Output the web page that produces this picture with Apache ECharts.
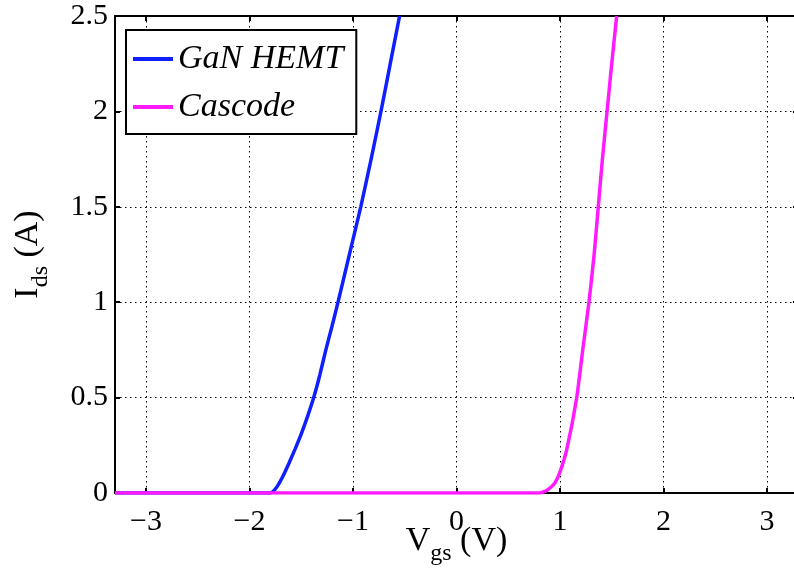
<!DOCTYPE html>
<html>
<head>
<meta charset="utf-8">
<script src="https://cdn.jsdelivr.net/npm/echarts@6.0.0/dist/echarts.min.js"></script>
<style>
  html, body { margin: 0; padding: 0; background: #fff; }
  #chart { width: 794px; height: 576px; }
</style>
</head>
<body>
<div id="chart"></div>
<script>
// data (Vgs in V, Ids in A)
var ganVgs = [-3.3, -1.80, -1.76, -1.72, -1.68, -1.62, -1.56, -1.50, -1.44, -1.38, -1.32, -1.265, -1.205, -1.145, -1.035, -0.925, -0.825, -0.73, -0.64, -0.55];
var ganIds = [0, 0, 0.015, 0.045, 0.085, 0.155, 0.23, 0.31, 0.40, 0.50, 0.62, 0.745, 0.87, 1.0, 1.25, 1.5, 1.75, 2.0, 2.25, 2.5];
var casVgs = [-3.3, 0.80, 0.86, 0.90, 0.95, 1.00, 1.065, 1.16, 1.22, 1.28, 1.33, 1.37, 1.41, 1.455, 1.50, 1.548];
var casIds = [0, 0, 0.01, 0.025, 0.052, 0.11, 0.227, 0.494, 0.75, 1.0, 1.25, 1.5, 1.75, 2.0, 2.25, 2.5];
var xTicks = [-3, -2, -1, 0, 1, 2, 3];
var seriesNames = ['GaN HEMT', 'Cascode'];

var serif = "'Liberation Serif', 'Times New Roman', serif";

function pairs(xs, ys) {
    var out = [];
    for (var i = 0; i < xs.length; i++) {
        out.push([xs[i], ys[i]]);
    }
    return out;
}

var chart = echarts.init(document.getElementById('chart'));
var option = {
    animation: false,
    backgroundColor: '#fff',
    grid: {
        left: 115,
        right: -4,
        top: 16,
        bottom: 83,
        containLabel: false,
        outerBoundsMode: 'none'
    },
    legend: {
        data: seriesNames,
        orient: 'vertical',
        left: 126,
        top: 30,
        padding: [12, 13, 10, 7],
        itemGap: 14,
        itemWidth: 40,
        itemHeight: 4,
        icon: 'rect',
        backgroundColor: '#fff',
        borderColor: '#000',
        borderWidth: 2,
        textStyle: {
            fontFamily: serif,
            fontStyle: 'italic',
            fontSize: 34,
            color: '#000'
        }
    },
    xAxis: [{
        type: 'value',
        min: -3.3,
        max: 3.3,
        position: 'bottom',
        name: '{m|V}{s|gs}{m| (V)}',
        nameLocation: 'middle',
        nameMoveOverlap: false,
        nameGap: 23,
        nameTextStyle: {
            color: '#000',
            rich: {
                m: { fontFamily: serif, fontSize: 34, color: '#000' },
                s: { fontFamily: serif, fontSize: 24, color: '#000', padding: [26, 0, 0, 0] }
            }
        },
        axisLine: { onZero: false, lineStyle: { color: '#000', width: 2 } },
        axisTick: { inside: true, length: 5, lineStyle: { color: '#000', width: 2 }, customValues: xTicks },
        axisLabel: {
            customValues: xTicks,
            color: '#000',
            fontFamily: serif,
            fontSize: 30,
            margin: 14,
            formatter: function (v) { return String(v).replace('-', '\u2212'); }
        },
        splitLine: { show: true, lineStyle: { color: '#000', width: 1, type: [1.5, 3.5] } }
    }, {
        type: 'value',
        min: -3.3,
        max: 3.3,
        position: 'top',
        axisLine: { onZero: false, lineStyle: { color: '#000', width: 2 } },
        axisTick: { inside: true, length: 5, lineStyle: { color: '#000', width: 2 }, customValues: xTicks },
        axisLabel: { show: false, customValues: xTicks },
        splitLine: { show: false }
    }],
    yAxis: [{
        type: 'value',
        min: 0,
        max: 2.5,
        interval: 0.5,
        position: 'left',
        name: '{m|I}{s|ds}{m| (A)}',
        nameLocation: 'middle',
        nameRotate: 90,
        nameGap: 62,
        nameTextStyle: {
            color: '#000',
            rich: {
                m: { fontFamily: serif, fontSize: 34, color: '#000' },
                s: { fontFamily: serif, fontSize: 24, color: '#000', padding: [26, 0, 0, 0] }
            }
        },
        axisLine: { onZero: false, lineStyle: { color: '#000', width: 2 } },
        axisTick: { inside: true, length: 5, lineStyle: { color: '#000', width: 2 } },
        axisLabel: { color: '#000', fontFamily: serif, fontSize: 30, margin: 7 },
        splitLine: { show: true, lineStyle: { color: '#000', width: 1, type: [1.5, 3.5] } }
    }, {
        type: 'value',
        min: 0,
        max: 2.5,
        interval: 0.5,
        position: 'right',
        axisLine: { onZero: false, lineStyle: { color: '#000', width: 2 } },
        axisTick: { inside: true, length: 5, lineStyle: { color: '#000', width: 2 } },
        axisLabel: { show: false },
        splitLine: { show: false }
    }],
    series: [{
        name: seriesNames[0],
        type: 'line',
        data: pairs(ganVgs, ganIds),
        symbol: 'none',
        smooth: 0.2,
        color: '#0f1fff',
        lineStyle: { width: 3.5, color: '#0f1fff' }
    }, {
        name: seriesNames[1],
        type: 'line',
        data: pairs(casVgs, casIds),
        symbol: 'none',
        smooth: 0.2,
        color: '#ff1aff',
        lineStyle: { width: 3.5, color: '#ff1aff' }
    }]
};
chart.setOption(option);
</script>
</body>
</html>
